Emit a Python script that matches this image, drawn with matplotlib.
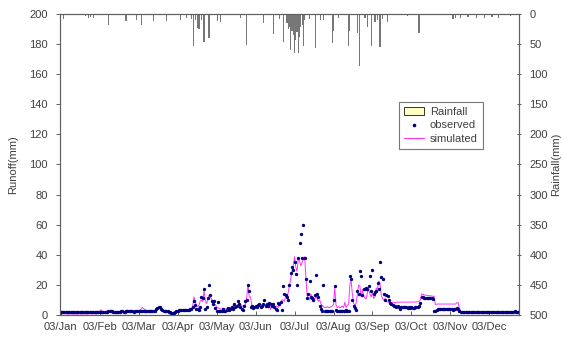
import numpy as np
import matplotlib
matplotlib.use('Agg')
import matplotlib.pyplot as plt
from matplotlib.patches import Patch
from matplotlib.lines import Line2D

plt.rcParams['font.family'] = ['Liberation Sans', 'DejaVu Sans']

# daily values for 2003 (day 0 = 1 Jan)
obs_jan = [2.0, 2.0, 1.9, 2.0, 2.0, 1.9, 2.0, 2.0, 1.9, 1.9, 2.0, 2.0, 1.9, 1.9, 2.0, 2.0,
           1.9, 1.9, 2.0, 2.1, 2.0, 2.0, 1.9, 1.9, 2.0, 2.0, 2.0, 1.9, 1.9, 2.0, 2.0]
obs_feb = [2.0, 2.1, 2.2, 2.2, 2.3, 2.3, 2.2, 2.4, 2.8, 2.6, 2.4, 2.3, 2.3, 2.2,
           2.2, 2.3, 2.3, 2.4, 2.4, 2.3, 2.3, 2.4, 2.5, 2.8, 2.6, 2.4, 2.4, 2.3]
obs_mar = [2.4, 2.4, 2.5, 2.5, 2.6, 2.7, 2.7, 2.6, 2.6, 2.5, 2.5, 2.6, 2.6, 2.6, 2.7, 2.8,
           3.0, 3.8, 4.8, 5.5, 5.0, 4.0, 3.2, 2.8, 2.6, 2.5, 2.4, 2.3, 2.0, 1.5, 1.4]
obs_apr = [1.6, 2.0, 2.6, 3.0, 3.2, 3.4, 3.5, 3.5, 3.4, 3.4, 3.5, 3.6, 3.6, 3.7, 4.0,
           5.0, 9.5, 6.5, 4.0, 3.8, 3.6, 5.5, 12.0, 11.0, 17.0, 4.0, 5.0, 11.0, 20.0, 13.0]
obs_may = [9.0, 7.0, 9.0, 4.5, 3.0, 8.6, 3.0, 2.8, 3.0, 4.0, 3.0, 2.8, 3.5, 4.5, 3.5, 4.0,
           5.0, 4.0, 7.0, 5.0, 6.0, 9.0, 7.0, 5.5, 4.0, 3.6, 6.0, 9.0, 9.7, 20.0, 16.0]
obs_jun = [5.0, 6.0, 4.5, 5.0, 6.0, 5.0, 6.5, 7.0, 5.5, 6.0, 7.0, 10.0, 6.0, 7.0, 6.0,
           8.0, 7.0, 6.0, 7.0, 5.0, 4.0, 3.6, 8.0, 7.0, 8.6, 3.6, 19.0, 14.0, 13.0, 12.0]
obs_jul = [10.0, 20.0, 28.0, 32.0, 30.0, 35.4, 27.0, 20.0, 38.0, 47.6, 53.6, 38.0, 60.0, 38.0, 24.0, 11.0,
           14.0, 22.6, 12.0, 11.0, 9.7, 13.0, 26.6, 14.0, 12.0, 6.0, 4.0, 3.0, 20.0, 3.0, 2.5]
obs_aug = [2.5, 2.8, 2.6, 3.0, 2.8, 10.0, 19.0, 3.6, 3.0, 2.5, 2.6, 2.8, 3.0, 2.6, 2.5, 3.5,
           2.6, 2.5, 26.0, 24.0, 10.0, 6.0, 4.8, 3.6, 16.0, 14.0, 29.0, 26.0, 13.0, 17.0, 17.0]
obs_sep = [18.0, 17.0, 19.0, 26.0, 16.0, 30.0, 14.0, 15.0, 16.0, 21.0, 17.0, 35.4, 25.0, 24.0, 14.0,
           10.0, 13.0, 12.6, 10.0, 8.0, 7.0, 6.5, 6.0, 6.0, 5.5, 6.0, 5.5, 4.0, 5.5, 5.0]
obs_oct = [5.0, 5.5, 5.0, 4.5, 5.0, 4.5, 5.0, 4.8, 4.8, 5.0, 5.0, 5.5, 6.0, 8.0, 12.0, 12.0,
           11.5, 11.5, 11.5, 11.2, 11.2, 11.0, 11.0, 10.8, 3.0, 2.5, 3.5, 4.0, 4.0, 4.0, 4.0]
obs_nov = [4.0, 3.8, 4.0, 4.0, 4.0, 3.8, 4.0, 4.0, 3.6, 4.0, 4.2, 4.6, 4.0, 3.0, 2.3,
           2.0, 2.0, 2.0, 2.0, 1.9, 2.0, 2.0, 1.9, 2.0, 1.9, 2.0, 2.0, 1.9, 1.9, 2.0]
obs_dec = [2.0, 2.0, 1.9, 1.9, 2.0, 2.0, 1.9, 2.0, 2.0, 1.8, 1.9, 2.0, 2.0, 2.0, 1.9, 1.9,
           2.0, 2.2, 2.0, 2.0, 2.0, 1.9, 2.1, 2.2, 2.0, 2.0, 2.1, 2.4, 2.2, 2.0, 2.0]

sim_jan = [1.2, 1.0, 1.0, 0.9, 0.9, 0.8, 0.8, 0.8, 0.8, 0.8, 0.8, 0.7, 0.7, 0.7, 0.8, 0.8,
           0.8, 0.8, 0.8, 0.8, 0.8, 0.8, 0.8, 0.9, 1.0, 0.9, 0.9, 0.8, 0.8, 0.9, 1.5]
sim_feb = [2.5, 3.5, 2.5, 1.5, 1.2, 1.0, 1.0, 1.2, 2.8, 2.0, 1.5, 1.3, 1.5, 2.0,
           2.2, 2.4, 2.5, 2.5, 2.4, 2.6, 2.5, 2.6, 3.2, 3.0, 2.7, 2.6, 2.5, 2.6]
sim_mar = [2.5, 2.6, 2.6, 2.7, 3.0, 4.0, 5.0, 4.2, 3.5, 3.0, 2.8, 2.7, 2.6, 2.6, 2.6, 2.7,
           3.0, 3.6, 4.5, 5.0, 4.5, 3.5, 3.0, 2.7, 2.5, 2.4, 2.3, 2.2, 1.8, 1.2, 1.0]
sim_apr = [1.2, 1.6, 2.2, 2.8, 3.0, 3.2, 3.3, 3.3, 3.3, 3.3, 3.3, 3.4, 3.4, 3.5, 4.0,
           6.0, 12.0, 9.0, 6.5, 5.5, 6.5, 9.3, 10.0, 9.0, 16.0, 10.0, 7.5, 10.0, 13.0, 12.0]
sim_may = [11.0, 8.0, 6.5, 7.0, 5.5, 4.8, 4.5, 4.0, 4.0, 4.5, 4.0, 4.0, 4.5, 5.0, 4.5, 5.0,
           5.5, 6.0, 6.5, 6.0, 6.0, 7.0, 8.0, 7.0, 6.0, 6.0, 6.5, 7.0, 12.0, 20.0, 12.0]
sim_jun = [12.0, 6.5, 5.5, 5.0, 5.5, 6.0, 5.5, 6.5, 5.5, 7.0, 5.5, 6.5, 7.0, 5.0, 6.5,
           7.0, 3.6, 7.0, 5.0, 6.0, 5.5, 6.0, 5.0, 6.5, 8.0, 10.0, 10.0, 9.0, 13.0, 12.0]
sim_jul = [15.0, 20.0, 24.0, 29.0, 33.0, 38.7, 32.0, 29.0, 38.0, 36.0, 32.6, 35.0, 37.0, 38.7, 26.0, 13.0,
           11.0, 10.0, 14.0, 11.0, 12.0, 10.0, 13.0, 10.7, 9.0, 10.0, 7.5, 6.5, 5.5, 5.0, 5.0]
sim_aug = [5.5, 5.0, 5.0, 5.5, 6.0, 7.0, 18.0, 6.5, 5.0, 5.5, 5.0, 5.0, 6.0, 5.0, 8.5, 5.0,
           6.5, 7.0, 20.0, 22.6, 14.0, 7.5, 6.5, 8.0, 14.0, 20.0, 19.0, 12.0, 17.0, 13.0, 11.0]
sim_sep = [11.0, 15.0, 17.0, 14.0, 12.0, 15.0, 11.0, 12.0, 18.0, 17.0, 22.6, 21.0, 13.0, 11.0, 10.0,
           11.0, 9.0, 8.6, 8.5, 8.0, 8.0, 8.5, 8.5, 8.0, 8.5, 8.6, 8.5, 8.6, 8.6, 8.5]
sim_oct = [8.6, 8.6, 8.5, 8.6, 8.6, 8.6, 8.6, 8.6, 8.6, 8.7, 8.7, 8.8, 9.0, 10.0, 14.0, 13.6,
           13.4, 13.2, 13.0, 13.0, 12.8, 12.8, 12.6, 12.5, 12.5, 7.0, 7.2, 7.3, 7.3, 7.3, 7.3]
sim_nov = [7.3, 7.3, 7.3, 7.3, 7.3, 7.3, 7.3, 7.3, 7.3, 7.3, 7.3, 8.0, 8.5, 5.0, 2.5,
           2.0, 1.9, 1.8, 1.8, 1.8, 1.7, 1.7, 1.7, 1.7, 1.6, 1.6, 1.6, 1.6, 1.6, 1.5]
sim_dec = [1.5, 1.5, 1.5, 1.5, 1.5, 1.5, 1.5, 1.5, 1.5, 1.5, 1.5, 1.4, 1.4, 1.4, 1.4, 1.4,
           1.4, 1.4, 1.4, 1.4, 1.4, 1.4, 1.4, 1.4, 1.4, 1.3, 1.3, 1.3, 1.3, 1.3, 1.3]

rain_day = [2, 20, 22, 24, 26, 38, 52, 60, 64, 74, 84, 95, 100, 104, 106, 107, 109, 110, 112, 114,
            118, 125, 127, 143, 148, 161, 169, 174, 177, 180, 181, 182, 183, 184, 185, 186, 187,
            188, 189, 190, 191, 192, 193, 194, 198, 203, 207, 209, 216, 217, 221, 229, 230, 236,
            238, 242, 244, 247, 250, 252, 254, 256, 260, 276, 285, 312, 314, 318, 324, 331, 337,
            343, 348, 358]
rain_mm = [8, 4, 6, 5, 7, 18, 12, 10, 18, 11, 12, 10, 7, 8, 54, 10, 24, 25, 10, 47,
           40, 11, 14, 7, 51, 15, 34, 9, 46, 15, 25, 21, 60, 28, 35, 64, 43,
           30, 65, 39, 22, 18, 54, 10, 8, 57, 10, 10, 49, 29, 6, 53, 29, 31,
           86, 7, 22, 54, 14, 10, 55, 9, 14, 3, 31, 8, 6, 7, 5, 6, 6,
           5, 6, 4]

tick_days = [0, 31, 62, 93, 124, 155, 186, 217, 248, 279, 310, 341]
tick_labels = ['03/Jan', '03/Feb', '03/Mar', '03/Apr', '03/May', '03/Jun',
               '03/Jul', '03/Aug', '03/Sep', '03/Oct', '03/Nov', '03/Dec']

observed = np.array(obs_jan + obs_feb + obs_mar + obs_apr + obs_may + obs_jun +
                    obs_jul + obs_aug + obs_sep + obs_oct + obs_nov + obs_dec)
simulated = np.array(sim_jan + sim_feb + sim_mar + sim_apr + sim_may + sim_jun +
                     sim_jul + sim_aug + sim_sep + sim_oct + sim_nov + sim_dec)
days = np.arange(len(observed))

fig = plt.figure(figsize=(5.63, 3.41), dpi=100)
ax = fig.add_axes([0.1066, 0.0762, 0.8152, 0.8828])
ax2 = ax.twinx()

txt = '#404040'
spine_c = '#606060'

ax.plot(days, simulated, color='#ff33ff', lw=0.7, zorder=2)
ax.plot(days, observed, ls='none', marker='o', ms=1.4, color='#000080', zorder=3)
ax.set_xlim(-0.5, 364.5)
ax.set_ylim(0, 200)
ax.set_yticks(range(0, 201, 20))
ax.set_xticks(tick_days)
ax.set_xticklabels(tick_labels)
ax.set_ylabel('Runoff(mm)', color=txt, fontsize=8, labelpad=8)

ax2.bar(rain_day, rain_mm, width=0.9, color='#777777', linewidth=0)
ax2.set_ylim(500, 0)
ax2.set_yticks(range(0, 501, 50))
ax2.set_ylabel('Rainfall(mm)', color=txt, fontsize=8)
ax2.yaxis.set_label_coords(1.07, 0.5)

for a in (ax, ax2):
    for s in a.spines.values():
        s.set_color(spine_c)
        s.set_linewidth(0.8)
ax.tick_params(axis='both', labelsize=8, colors=spine_c, labelcolor=txt, length=3, width=0.7)
ax.tick_params(axis='x', direction='in', pad=5)
ax.tick_params(axis='y', direction='out', pad=6)
ax2.tick_params(axis='y', labelsize=8, colors=spine_c, labelcolor=txt, length=3, width=0.7,
                direction='inout', pad=6)

handles = [Patch(facecolor='#ffffc0', edgecolor='#333333', linewidth=0.7),
           Line2D([], [], ls='none', marker='o', ms=1.6, color='#000080'),
           Line2D([], [], color='#ff33ff', lw=0.8)]
leg = ax2.legend(handles, ['Rainfall', 'observed', 'simulated'], loc='upper left',
                 bbox_to_anchor=(0.7255, 0.7276), fontsize=8, frameon=True, fancybox=False,
                 borderpad=0.5, handlelength=1.8, labelspacing=0.3, handletextpad=0.5)
leg.get_frame().set_edgecolor('#555555')
leg.get_frame().set_linewidth(0.8)
for t in leg.get_texts():
    t.set_color(txt)

fig.savefig('out.png', dpi=100)
